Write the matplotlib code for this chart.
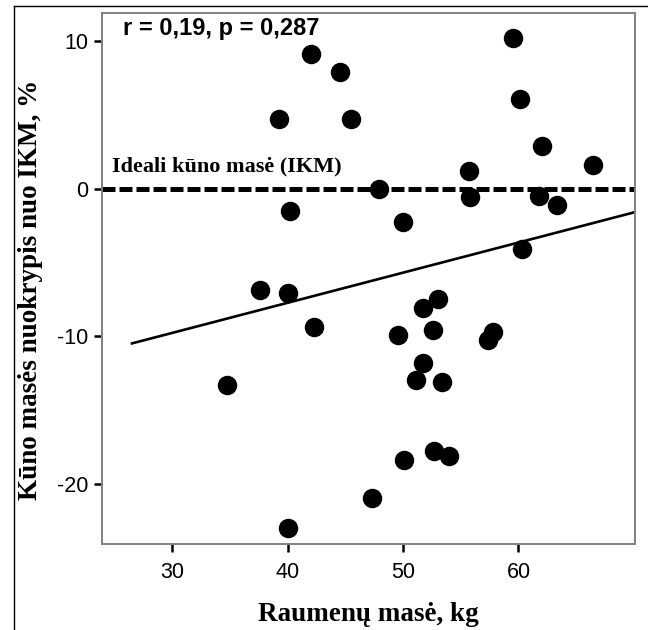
import matplotlib
matplotlib.use('Agg')
import matplotlib.pyplot as plt
from matplotlib.lines import Line2D

plt.rcParams['font.family'] = ['Liberation Sans', 'DejaVu Sans']
plt.rcParams['axes.unicode_minus'] = False

# duomenys (nuskaityti nuo paveikslo)
raumenu_mase = [42.0, 44.5, 39.2, 45.5, 40.2, 37.6, 40.0, 42.3, 34.7, 40.0,
                59.5, 60.1, 62.0, 66.5, 55.7, 47.9, 55.8, 61.8, 63.3, 50.0,
                60.3, 53.0, 51.7, 49.6, 52.6, 57.8, 57.4, 51.7, 51.1, 53.4,
                52.7, 54.0, 50.1, 47.3]
nuokrypis = [9.1, 7.9, 4.7, 4.7, -1.5, -6.9, -7.1, -9.4, -13.3, -23.0,
             10.2, 6.1, 2.9, 1.6, 1.2, 0.0, -0.6, -0.5, -1.1, -2.3,
             -4.1, -7.5, -8.1, -9.9, -9.6, -9.7, -10.3, -11.8, -13.0, -13.1,
             -17.8, -18.1, -18.4, -21.0]
# regresijos tiese
fit_x = [26.5, 70.1]
fit_y = [-10.5, -1.6]
x_ticks = [30, 40, 50, 60]
y_ticks = [-20, -10, 0, 10]
ikm_lygis = 0

fig = plt.figure(figsize=(6.48, 6.30), dpi=100)
ax = fig.add_axes([102/648, 1-544/630, 533/648, 531/630])

ax.plot(raumenu_mase, nuokrypis, 'o', color='black', ms=13, zorder=3)
ax.plot(fit_x, fit_y, color='black', lw=1.9, zorder=2)
ax.axhline(ikm_lygis, color='black', lw=3.6, dashes=(2.6, 0.8),
           solid_capstyle='butt', dash_capstyle='butt', zorder=2)

ax.set_xlim(23.9, 70.1)
ax.set_ylim(-24.1, 11.9)
ax.set_xticks(x_ticks)
ax.set_yticks(y_ticks)
ax.tick_params(direction='out', length=6, width=1.8, color='black',
               labelsize=15.5, pad=4)
ax.tick_params(axis='x', pad=7)
for s in ax.spines.values():
    s.set_color('#808080')
    s.set_linewidth(1.4)

ax.text(25.7, 10.4, 'r = 0,19, p = 0,287', fontsize=17, fontweight='bold',
        va='baseline', ha='left')
ax.text(24.8, 1.15, 'Ideali kūno masė (IKM)', fontsize=16, fontweight='bold',
        family=['Liberation Serif', 'DejaVu Serif'], va='baseline', ha='left')

ax.set_xlabel('Raumenų masė, kg', fontsize=19.5, fontweight='bold',
              family=['Liberation Serif', 'DejaVu Serif'])
ax.set_ylabel('Kūno masės nuokrypis nuo IKM, %', fontsize=19.5, fontweight='bold',
              family=['Liberation Serif', 'DejaVu Serif'])
ax.xaxis.set_label_coords(0.5, -0.11)
ax.yaxis.set_label_coords(-0.11, 0.478)

# isorinis remelis
fig.add_artist(Line2D([14/648, 1], [1-6/630, 1-6/630], color='black', lw=1,
                      transform=fig.transFigure))
fig.add_artist(Line2D([14/648, 14/648], [0, 1-6/630], color='black', lw=1,
                      transform=fig.transFigure))

fig.savefig('out.png', dpi=100)
